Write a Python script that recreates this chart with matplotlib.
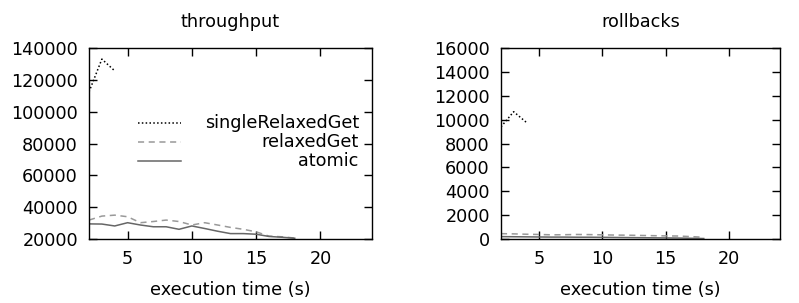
import matplotlib
matplotlib.use("Agg")
import matplotlib.pyplot as plt

# execution time (s)
t_single = [2, 3, 4]
t_long = list(range(2, 19))

# throughput
thr_single = [112500, 133100, 125700]
thr_relaxed = [31900, 34400, 35000, 34000, 30250, 31000, 31900, 31000, 28800,
               30250, 28800, 27300, 26100, 24500, 21800, 21400, 20600]
thr_atomic = [29500, 29400, 28200, 30250, 28800, 27700, 27700, 26100, 28200,
              26600, 24900, 23400, 23400, 23000, 21600, 21100, 20500]

# rollbacks
rb_single = [9400, 10670, 9780]
rb_relaxed = [450, 430, 400, 380, 350, 360, 380, 370, 350, 330, 320, 300,
              280, 260, 250, 200, 150]
rb_atomic = [200, 190, 180, 170, 160, 160, 150, 150, 140, 130, 120, 110,
             100, 90, 80, 60, 40]

labels = ["singleRelaxedGet", "relaxedGet", "atomic"]
styles = [dict(color="black", linestyle=(0, (1, 1.5)), lw=1.1),
          dict(color="#999999", linestyle=(0, (4, 3)), lw=1.1),
          dict(color="#666666", linestyle="-", lw=1.1)]

FS = 12.7
plt.rcParams["font.family"] = "DejaVu Sans"
plt.rcParams["font.size"] = FS

fig = plt.figure(figsize=(7.99, 3.03), dpi=100)
ax1 = fig.add_axes([0.1114, 0.2112, 0.354, 0.630])
ax2 = fig.add_axes([0.627, 0.2112, 0.349, 0.630])


def style_axes(ax, title, yticks):
    ax.set_xlim(2, 24)
    ax.set_ylim(yticks[0], yticks[-1])
    ax.set_xticks([5, 10, 15, 20])
    ax.set_yticks(yticks)
    ax.tick_params(direction="in", top=True, right=True, length=6, width=1,
                   pad=8, labelsize=FS)
    for s in ax.spines.values():
        s.set_linewidth(1)
    ax.set_title(title, fontsize=FS, pad=15)
    ax.set_xlabel("execution time (s)", fontsize=FS, labelpad=9)


ax1.plot(t_single, thr_single, **styles[0])
ax1.plot(t_long, thr_relaxed, **styles[1])
ax1.plot(t_long, thr_atomic, **styles[2])
style_axes(ax1, "throughput", list(range(20000, 140001, 20000)))

ax2.plot(t_single, rb_single, **styles[0])
ax2.plot(t_long, rb_relaxed, **styles[1])
ax2.plot(t_long, rb_atomic, **styles[2])
style_axes(ax2, "rollbacks", list(range(0, 16001, 2000)))

# gnuplot style key: sample on the left, text right-aligned
key_y = [0.607, 0.508, 0.408]
for lab, st, y in zip(labels, styles, key_y):
    ax1.plot([0.173, 0.325], [y, y], transform=ax1.transAxes, **st)
    ax1.text(0.954, y, lab, transform=ax1.transAxes, ha="right", va="center",
             fontsize=FS)

fig.savefig("out.png", dpi=100)
